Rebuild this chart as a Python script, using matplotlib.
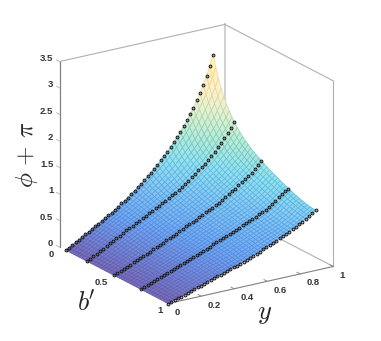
import numpy as np
import matplotlib
matplotlib.use('Agg')
import matplotlib.pyplot as plt
from matplotlib.colors import LinearSegmentedColormap
from mpl_toolkits.mplot3d import proj3d

plt.rcParams['font.family'] = ['Liberation Sans', 'DejaVu Sans']
plt.rcParams['mathtext.fontset'] = 'cm'

# values: phi+pi along y, one list per marked b' curve
b_curves = [0.055, 0.25, 0.5, 0.75, 1.0]
y_max = 0.893
z_b005 = [0, .035, .07, .105, .14, .178, .215, .252, .29, .325, .362, .40, .44, .475, .512, .555,
          .60, .645, .685, .728, .785, .83, .88, .925, .985, 1.045, 1.10, 1.163, 1.226, 1.292,
          1.354, 1.42, 1.496, 1.578, 1.657, 1.744, 1.839, 1.933, 2.037, 2.145, 2.27, 2.399,
          2.541, 2.692, 2.866, 3.06]
z_b025 = [0, .034, .068, .102, .136, .17, .205, .24, .274, .308, .343, .378, .413, .445, .477, .508,
          .54, .573, .605, .638, .67, .705, .74, .775, .81, .84, .88, .92, .96, .997, 1.04, 1.088,
          1.139, 1.182, 1.245, 1.292, 1.341, 1.397, 1.459, 1.527, 1.597, 1.669, 1.739, 1.82,
          1.911, 2.005]
z_b050 = [0, .027, .054, .08, .107, .133, .16, .187, .214, .24, .267, .295, .322, .35, .378, .405,
          .435, .465, .495, .522, .552, .585, .617, .65, .675, .70, .73, .765, .80, .83, .862,
          .895, .928, .961, 1.01, 1.048, 1.082, 1.12, 1.167, 1.21, 1.26, 1.309, 1.356, 1.413,
          1.476, 1.536]
z_b075 = [0, .024, .049, .073, .098, .122, .146, .171, .195, .22, .244, .269, .293, .318, .343, .368,
          .393, .418, .443, .468, .493, .518, .543, .568, .594, .62, .646, .672, .698, .724, .75,
          .777, .805, .83, .857, .883, .914, .938, .972, 1.016, 1.052, 1.101, 1.152, 1.2, 1.243,
          1.279]
z_b100 = [0, .019, .038, .057, .076, .096, .116, .137, .158, .18, .2, .22, .242, .264, .285, .305,
          .325, .345, .365, .385, .405, .425, .446, .468, .49, .515, .54, .565, .59, .618, .645,
          .672, .70, .73, .758, .785, .815, .845, .875, .905, .94, .975, 1.012, 1.05, 1.09, 1.135]

z_ticks = [0, 0.5, 1, 1.5, 2, 2.5, 3, 3.5]
z_tick_labels = ['0', '0.5', '1', '1.5', '2', '2.5', '3', '3.5']
b_ticks = [0, 0.5, 1]
b_tick_labels = ['0', '0.5', '1']
y_ticks = [0, 0.2, 0.4, 0.6, 0.8, 1]
y_tick_labels = ['0', '0.2', '0.4', '0.6', '0.8', '1']

W, H = 381, 341
fig = plt.figure(figsize=(W / 100, H / 100), dpi=100, facecolor='white')
S = 300
cx, cy = 196.5, 164.0
left = (cx - 0.5135 * S) / W
bottom = ((H - cy) - 0.5135 * S) / H
ax = fig.add_axes([left, bottom, S / W, S / H], projection='3d',
                  proj_type='ortho', computed_zorder=False)
ax.view_init(elev=20, azim=-33.3)
ax.set_box_aspect((1, 1, 1), zoom=1.107)
ax.set_xlim(0, 1, view_margin=0)
ax.set_ylim(0, 1, view_margin=0)
ax.set_zlim(0, 3.5, view_margin=0)
ax.set_xticks([])
ax.set_yticks([])
ax.set_zticks([])
ax.set_axis_off()

curves = np.array([z_b005, z_b025, z_b050, z_b075, z_b100])
y_grid = np.linspace(0, y_max, curves.shape[1])

# dense mesh through the read curves (rendering only)
b_mesh = np.linspace(b_curves[0], 1, 39)
Z = np.zeros((len(b_mesh), len(y_grid)))
for j in range(len(y_grid)):
    c = np.polyfit(b_curves, np.log(curves[:, j] + 0.2), 4)
    Z[:, j] = np.exp(np.polyval(c, b_mesh)) - 0.2
B, Y = np.meshgrid(b_mesh, y_grid, indexing='ij')

cmap = LinearSegmentedColormap.from_list('parula_like', [
    (0.00, '#6557ab'), (0.07, '#5a6cc8'), (0.17, '#4a8ce8'), (0.30, '#4fa8ea'),
    (0.43, '#4cc4e0'), (0.56, '#70d0b0'), (0.68, '#b0d898'), (0.80, '#f0d888'),
    (0.90, '#fdd070'), (1.00, '#fff020')])

# box
c_light = '#b0b0b0'
c_dark = '#808080'
ax.plot([0, 0], [1, 1], [0, 3.5], color='#d0d0d0', lw=1.4, zorder=1)
ax.plot([0, 0], [0, 1], [3.5, 3.5], color=c_light, lw=0.8, zorder=1)
ax.plot([0, 1], [1, 1], [3.5, 3.5], color=c_light, lw=0.8, zorder=1)
ax.plot([1, 1], [1, 1], [0, 3.5], color=c_light, lw=0.8, zorder=1)
ax.plot([0, 1], [1, 1], [0, 0], color=c_light, lw=0.8, zorder=1)
ax.plot([0, 0], [0, 0], [0, 3.5], color=c_dark, lw=0.9, zorder=1)
ax.plot([1, 1], [0, 1], [0, 0], color=c_dark, lw=0.8, zorder=1)

# ticks
for t in z_ticks:
    ax.plot([0, -0.03], [0, 0], [t, t], color=c_light, lw=0.6, zorder=1)
for t in y_ticks:
    ax.plot([1, 0.97], [t, t], [0, 0], color=c_dark, lw=0.6, zorder=1)

# surface: coloured mesh lines over a paler tint of the same colour
surf = ax.plot_surface(B, Y, Z, rstride=1, cstride=1, color='white', shade=False,
                       linewidth=0.45, antialiased=True, zorder=2)
face_z = 0.25 * (Z[:-1, :-1] + Z[1:, :-1] + Z[:-1, 1:] + Z[1:, 1:])
frac = np.clip(face_z.ravel() / 3.06, 0, 1)
edge_rgba = cmap(frac)
tint = (0.12 + 0.5 * np.clip(frac / 0.7, 0, 1))[:, None]
face_rgba = edge_rgba.copy()
face_rgba[:, :3] = edge_rgba[:, :3] * (1 - tint) + tint
surf.set_facecolor(face_rgba)
surf.set_edgecolor(edge_rgba)

# markers
for b, z in zip(b_curves, curves):
    ax.plot(np.full_like(y_grid, b), y_grid, z, ls='none', marker='o', ms=2.1,
            mfc=(0.35, 0.35, 0.35, 0.5), mec='#141414', mew=0.65, zorder=3)

# tick labels, placed at the projected position of their 3D anchor
M = ax.get_proj()
font = dict(fontsize=6.8, color='#333333', fontweight='bold', zorder=5)


def label3d(x, y, z, s, ha):
    px, py, _ = proj3d.proj_transform(x, y, z, M)
    ax.text2D(px, py, s, ha=ha, va='center', transform=ax.transData, **font)


for t, s in zip(z_ticks, z_tick_labels):
    label3d(-0.06, 0, t, s, 'right')
for t, s in zip(b_ticks, b_tick_labels):
    label3d(t, -0.036, -0.107, s, 'right')
for t, s in zip(y_ticks, y_tick_labels):
    label3d(1.06, t, -0.106, s, 'left')

# axis labels
fig.text(27 / W, 1 - 155 / H, r'$\phi\,+\,\pi$', fontsize=18, rotation=90,
         ha='center', va='center', color='#262626')
fig.text(86 / W, 1 - 303 / H, r"$b\hspace{-0.06}'$", fontsize=19, ha='center', va='center', color='#262626')
fig.text(265 / W, 1 - 314 / H, r'$y$', fontsize=19, ha='center', va='center', color='#262626')

fig.savefig('out.png', dpi=100, facecolor='white')
